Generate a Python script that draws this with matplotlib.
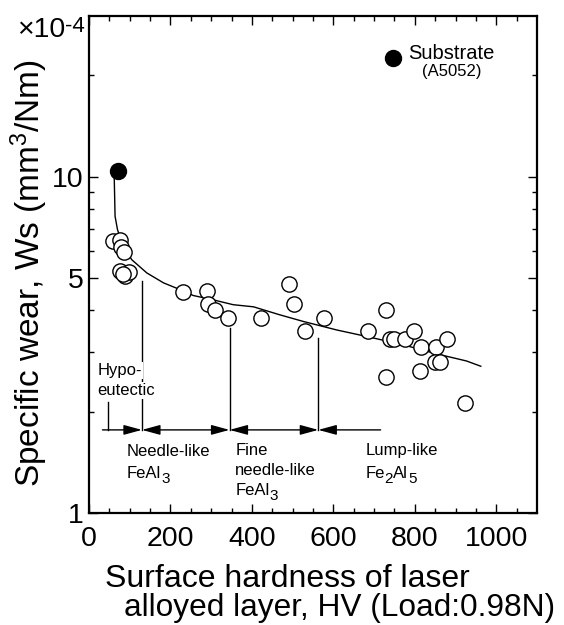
import matplotlib
matplotlib.use("Agg")
import matplotlib.pyplot as plt
from matplotlib.patches import FancyArrowPatch
from matplotlib.transforms import IdentityTransform

plt.rcParams['font.family'] = ['Liberation Sans', 'DejaVu Sans']
plt.rcParams['mathtext.fontset'] = 'custom'
plt.rcParams['mathtext.rm'] = 'Liberation Sans'
plt.rcParams['mathtext.it'] = 'Liberation Sans:italic'
plt.rcParams['mathtext.default'] = 'regular'

# ---- data ----
open_x = [60, 76, 78, 85, 76, 89, 97, 84,
          232, 289, 291, 309, 342, 423,
          492, 503, 576, 530, 730, 685, 740, 750, 775, 798, 814, 853, 879,
          850, 862, 813, 730, 924]
open_y = [6.42, 6.46, 6.18, 5.95, 5.23, 5.05, 5.19, 5.15,
          4.54, 4.58, 4.19, 4.00, 3.80, 3.80,
          4.80, 4.19, 3.79, 3.47, 4.01, 3.47, 3.29, 3.29, 3.29, 3.47, 3.11, 3.11, 3.29,
          2.82, 2.82, 2.65, 2.53, 2.13]

filled_x = [72]
filled_y = [10.4]

substrate_x = [747]
substrate_y = [22.5]

curve_x = [66, 62, 64, 70, 84, 105, 142, 183, 224, 256, 305, 354, 404, 469,
           526, 608, 690, 772, 854, 927, 962]
curve_y = [10.2, 9.9, 7.62, 6.95, 6.20, 5.66, 5.17, 4.83, 4.61, 4.43, 4.30, 4.16,
           4.10, 3.88, 3.71, 3.50, 3.33, 3.16, 2.97, 2.83, 2.73]

boundary_x = [46, 130, 345, 563]
boundary_top = [2.14, 4.90, 3.54, 3.31]
arrow_y = 1.766
arrow_left_end = 33
arrow_right_end = 716

xticks_major = [0, 200, 400, 600, 800, 1000]
yticks_major = [1, 5, 10]
yticks_minor = [2, 3, 4, 6, 7, 8, 9, 20]

# ---- figure ----
fig = plt.figure(figsize=(5.64, 6.25), dpi=100)
ax = fig.add_axes([89/564, 112/625, 448/564, 497/625])
ax.set_yscale('log')
ax.set_xlim(0, 1100)
ax.set_ylim(1, 30)

ax.set_xticks(xticks_major)
ax.set_xticklabels([str(v) for v in xticks_major])
ax.set_xticks([v for v in range(50, 1100, 50) if v % 200 != 0], minor=True)
ax.set_yticks(yticks_major)
ax.set_yticklabels([str(v) for v in yticks_major])
ax.set_yticks(yticks_minor, minor=True)
ax.set_yticklabels([], minor=True)

ax.tick_params(which='both', direction='in', top=True, right=True, width=1.0)
ax.tick_params(which='major', length=6.5, labelsize=20.5)
ax.tick_params(axis='x', which='major', pad=9)
ax.tick_params(axis='y', which='major', pad=4)
ax.tick_params(which='minor', length=3.5)
for s in ax.spines.values():
    s.set_linewidth(1.6)

# curve
ax.plot(curve_x, curve_y, color='black', lw=1.0, zorder=2)

# boundary lines
for bx, bt in zip(boundary_x, boundary_top):
    ax.plot([bx, bx], [arrow_y, bt], color='black', lw=1.0, zorder=1)

# arrows
def arr(x0, x1, style):
    p = FancyArrowPatch((x0, arrow_y), (x1, arrow_y), arrowstyle=style,
                        mutation_scale=10, color='black', lw=1.0,
                        shrinkA=0, shrinkB=0, zorder=1)
    ax.add_patch(p)

hs = 'head_length=1.1,head_width=0.3'
arr(arrow_left_end, boundary_x[1], '-|>,' + hs)
arr(boundary_x[1], boundary_x[2], '<|-|>,' + hs)
arr(boundary_x[2], boundary_x[3], '<|-|>,' + hs)
arr(boundary_x[3], arrow_right_end, '<|-,' + hs)

# points
ax.plot(open_x, open_y, 'o', ms=11, mfc='white', mec='black', mew=1.0,
        ls='none', zorder=3)
ax.plot(filled_x, filled_y, 'o', ms=11.5, color='black', ls='none', zorder=3)
ax.plot(substrate_x, substrate_y, 'o', ms=11.5, color='black', ls='none', zorder=3)

# annotations
fs = 12
wb = dict(facecolor='white', edgecolor='none', pad=0.5)
ax.text(21, 2.573, 'Hypo-', fontsize=fs, va='baseline', ha='left', bbox=wb, zorder=4)
ax.text(21, 2.243, 'eutectic', fontsize=fs, va='baseline', ha='left', bbox=wb, zorder=4)
ax.text(93, 1.48, 'Needle-like', fontsize=fs, va='baseline', ha='left')
ax.text(359, 1.487, 'Fine', fontsize=fs, va='baseline', ha='left')
ax.text(359, 1.297, 'needle-like', fontsize=fs, va='baseline', ha='left')
ax.text(678, 1.487, 'Lump-like', fontsize=fs, va='baseline', ha='left')
ax.text(784, 22.4, 'Substrate', fontsize=14.5, va='baseline', ha='left')
ax.text(817, 19.9, '(A5052)', fontsize=12, va='baseline', ha='left')

fig.canvas.draw()
renderer = fig.canvas.get_renderer()


def chem(x, y, parts, size=fs, subsize=11, drop=5):
    """Draw text pieces with larger-than-mathtext subscripts."""
    px, py = ax.transData.transform((x, y))
    for txt, is_sub in parts:
        t = fig.text(px, py - (drop if is_sub else 0), txt,
                     fontsize=subsize if is_sub else size,
                     transform=IdentityTransform(), ha='left', va='baseline')
        bb = t.get_window_extent(renderer)
        px = bb.x1


chem(93, 1.268, [('FeAl', False), ('3', True)])
chem(359, 1.131, [('FeAl', False), ('3', True)])
chem(678, 1.27, [('Fe', False), ('2', True), ('Al', False), ('5', True)])

# axis labels
fig.text(29/564, 1 - 273/625, 'Specific wear, Ws (mm$^3$/Nm)', rotation=90,
         ha='center', va='center', fontsize=24)
fig.text(105/564, 1 - 587/625, 'Surface hardness of laser', ha='left',
         va='baseline', fontsize=23)
fig.text(124/564, 1 - 616/625, 'alloyed layer, HV (Load:0.98N)', ha='left',
         va='baseline', fontsize=22.8)

# exponent marker
t0 = fig.text(17, 625 - 37, '\u00d710', ha='left', va='baseline', fontsize=20.5,
              transform=IdentityTransform())
bb0 = t0.get_window_extent(renderer)
fig.text(bb0.x1, 625 - 32, '-4', ha='left', va='baseline', fontsize=16,
         transform=IdentityTransform())

fig.savefig('out.png', dpi=100)
